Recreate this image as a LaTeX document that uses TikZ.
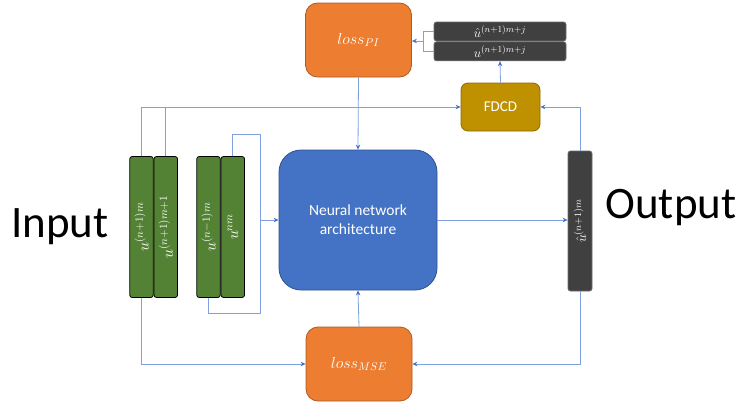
\documentclass[tikz,border=0pt]{standalone}
\usepackage{fix-cm}
\usepackage{fontspec}
\setmainfont{Carlito}
\usepackage{graphicx}
\usepackage{tikz}
\usetikzlibrary{positioning,arrows.meta}
\definecolor{ugreen}{HTML}{548235}
\definecolor{lossorange}{HTML}{ED7D31}
\definecolor{lossedge}{HTML}{AE5A21}
\definecolor{nnblue}{HTML}{4472C4}
\definecolor{nnedge}{HTML}{2F528F}
\definecolor{fdcdgold}{HTML}{BF9000}
\definecolor{fdcdedge}{HTML}{8F6B00}
\definecolor{outgray}{HTML}{404040}
\definecolor{outedge}{HTML}{6B6B6B}
\definecolor{wire}{HTML}{7FA2DE}
\definecolor{tipblue}{HTML}{4472C4}
\newcommand{\Up}[1]{\rotatebox{90}{#1}}

\begin{document}
\begin{tikzpicture}[x=1pt,y=-1pt,>={Stealth[length=5pt,width=4.5pt,color=tipblue]},
  every path/.style={draw=wire,line width=0.8pt},
  ubar/.style={draw=black,fill=ugreen,rounded corners=2.5pt,minimum width=23.5pt,minimum height=141pt,inner sep=0pt,text=white,font=\fontsize{16}{16}\selectfont},
  obar/.style={draw=outedge,fill=outgray,rounded corners=2.5pt,inner sep=0pt,text=white,font=\fontsize{13}{13}\selectfont},
  lossbox/.style={draw=lossedge,fill=lossorange,rounded corners=12pt,minimum width=106pt,minimum height=74pt,text=white,font=\fontsize{16}{16}\selectfont},
  bigtext/.style={font=\fontsize{45}{45}\selectfont,anchor=base}]
\useasboundingbox[fill=white,draw=none] (0,0) rectangle (742,407);
\node[bigtext] (inp) at (60,237) {Input};
\node[bigtext] (outp) at (671,218) {Output};
\node[ubar] (u1) at (141.5,227) {\Up{$u^{(n+1)m}$}};
\node[ubar,right=0pt of u1] (u2) {\Up{$u^{(n+1)m+1}$}};
\node[ubar] (u3) at (208.5,227) {\Up{$u^{(n-1)m}$}};
\node[ubar,right=0pt of u3] (u4) {\Up{$u^{nm}$}};
\node[draw=nnedge,fill=nnblue,rounded corners=22pt,minimum width=158pt,minimum height=140pt,text=white,align=center,font=\fontsize{15.5}{19}\selectfont] (nn) at (358,220) {Neural network\\architecture};
\node[lossbox] (lpi) at (358.5,40) {$loss_{PI}$};
\node[lossbox] (lmse) at (359,364) {$loss_{MSE}$};
\node[draw=fdcdedge,fill=fdcdgold,rounded corners=7pt,minimum width=79pt,minimum height=48pt,text=white,font=\fontsize{15}{15}\selectfont] (fdcd) at (500.5,107) {FDCD};
\node[obar,minimum width=132pt,minimum height=19pt] (ua) at (500,31.5) {$\hat{u}^{(n+1)m+j}$};
\node[obar,minimum width=132pt,minimum height=19pt,below=0pt of ua] (ub) {$u^{(n+1)m+j}$};
\node[obar,minimum width=24pt,minimum height=140pt,font=\fontsize{14}{14}\selectfont] (uhat) at (580,221) {\Up{$\hat{u}^{(n+1)m}$}};
\coordinate (lt) at (260,134);
\coordinate (lb) at (260,313);
\coordinate (br) at (423,41);
\draw[->] (u1.north) |- (fdcd.west);
\draw (u2.north) -- (u2.north |- fdcd.west);
\draw (u4.north) |- (lt) -- (lb) -| (u3.south);
\draw[->] (lt |- nn.west) -- (nn.west);
\draw[->] (lpi.south) -- (nn.north);
\draw[->] (lmse.north) -- (nn.south);
\draw[->] (u1.south) |- (lmse.west);
\draw[->] (uhat.south) |- (lmse.east);
\draw[->] (uhat.north) |- (fdcd.east);
\draw[->] (nn.east) -- (uhat.west |- nn.east);
\draw[->] (fdcd.north) -- (ub.south);
\draw (ua.west) -| (br);
\draw (ub.west) -| (br);
\draw[->] (br) -- (br -| lpi.east);
\end{tikzpicture}
\end{document}
